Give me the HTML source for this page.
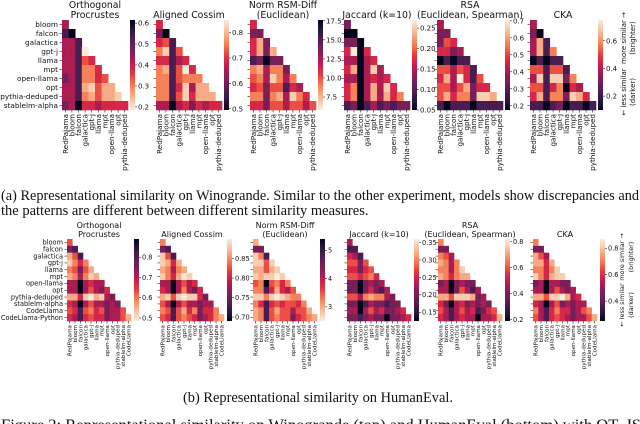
<!DOCTYPE html>
<html><head><meta charset="utf-8">
<style>
html,body{margin:0;padding:0;background:#fff;}
svg{display:block;font-family:"DejaVu Sans","Liberation Sans",sans-serif;}
.cap{font-family:"Liberation Serif",serif;font-size:14.5px;fill:#111;}
</style></head>
<body>
<svg id="fig" width="640" height="424" viewBox="0 0 640 424" xmlns="http://www.w3.org/2000/svg">
<text class="cap" x="1" y="200" textLength="638" lengthAdjust="spacingAndGlyphs">(a) Representational similarity on Winogrande. Similar to the other experiment, models show discrepancies and</text>
<text class="cap" x="1" y="215">the patterns are different between different similarity measures.</text>
<text class="cap" x="183" y="402" textLength="270" lengthAdjust="spacingAndGlyphs">(b) Representational similarity on HumanEval.</text>
<text class="cap" x="1" y="430" style="font-size:15.5px" textLength="640" lengthAdjust="spacingAndGlyphs">Figure 2: Representational similarity on Winogrande (top) and HumanEval (bottom) with OT, JS</text>
</svg>
<script>
// ---- data (brightness levels 0=dark .. 9=light) ----
const rowsTop = ["bloom","falcon","galactica","gpt-j","llama","mpt","open-llama","opt","pythia-deduped","stablelm-alpha"];
const colsTop = ["RedPajama","bloom","falcon","galactica","gpt-j","llama","mpt","open-llama","opt","pythia-deduped"];
const rowsBot = ["bloom","falcon","galactica","gpt-j","llama","mpt","open-llama","opt","pythia-deduped","stablelm-alpha","CodeLlama","CodeLlama-Python"];
const colsBot = ["RedPajama","bloom","falcon","galactica","gpt-j","llama","mpt","open-llama","opt","pythia-deduped","stablelm-alpha","CodeLlama"];

const lvOrthTop = ["3","10","331","3319","33154","331664","2316645","33178577","331675778","2304434444"];
const lvCosTop  = ["4","20","451","6815","44134","671594","6615666","66148377","661584777","3303424344"];
const lvRsmTop  = ["4","22","472","4727","12022","673662","5638636","45255143","662673864","4425535535"];
const lvJacTop  = ["2","00","220","4904","33034","470383","3303434","46037384","460373746","1201312122"];
const lvRsaTop  = ["3","22","254","4423","01011","553541","4739415","55357244","574662887","1011101111"];
const lvCkaTop  = ["3","20","371","3716","01011","551551","3818826","55146043","471662874","1101201101"];

const lvOrthBot = ["5","21","751","8646","65257","763687","3303433","33035324","774897832","4303533232","54156452335","431454423357"];
const lvCosBot  = ["6","21","851","8747","76367","864798","3303534","43036324","785898842","5303533233","65157462446","541565423467"];
const lvRsmBot  = ["7","22","861","8858","77578","878898","5605646","66147435","886898766","6414545546","76157553557","761565524567"];
const lvJacBot  = ["3","11","431","5525","44245","554564","2202323","22024213","553676632","2201322122","33035342234","221232202234"];
const lvRsaBot  = ["6","22","653","7636","66368","764677","2302322","33025313","775888723","4203423232","53135341245","431343303347"];
const lvCkaBot  = ["6","22","753","7747","66468","864788","2303322","33035323","775889734","4303523233","63146442356","531454323357"];

const titles = [["Orthogonal","Procrustes"],["Aligned Cossim"],["Norm RSM-Diff","(Euclidean)"],["Jaccard (k=10)"],["RSA","(Euclidean, Spearman)"],["CKA"]];
const cbTopRange = [[0.615,0.185],[0.85,0.495],[17.6,5.8],[0.27,0.05],[0.705,0.175],[0.75,0.1]];
const cbTopTicks = [[0.6,0.5,0.4,0.3,0.2],[0.8,0.7,0.6,0.5],[17.5,15.0,12.5,10.0,7.5],[0.25,0.20,0.15,0.10,0.05],[0.7,0.6,0.5,0.4,0.3,0.2],[0.6,0.4,0.2]];
const cbBotRange = [[0.89,0.485],[0.9,0.69],[5.4,2.5],[0.36,0.125],[0.82,0.19],[0.87,0.25]];
const cbBotTicks = [[0.8,0.7,0.6,0.5],[0.85,0.80,0.75,0.70],[5,4,3],[0.35,0.30,0.25,0.20,0.15],[0.8,0.6,0.4,0.2],[0.8,0.6,0.4]];
const darkTop = [true,false,true,false,false,false];
const tickDecimals = [1,1,1,2,1,1];
const tickDecimalsBot = [1,2,0,2,1,1];

// ---- drawing ----
const NS="http://www.w3.org/2000/svg";
const svg=document.getElementById('fig');
const stops=[[3,5,26],[40,23,62],[76,29,83],[113,31,87],[151,28,86],[203,27,79],[229,55,64],[243,111,74],[246,158,116],[248,200,170],[250,235,221]];
function rocket(t){t=Math.max(0,Math.min(1,t));const p=t*(stops.length-1);const i=Math.min(stops.length-2,Math.floor(p));const f=p-i;
 const c=stops[i].map((v,k)=>Math.round(v+(stops[i+1][k]-v)*f));return `rgb(${c[0]},${c[1]},${c[2]})`;}
function lvColor(d){return rocket(Math.pow(d/9,0.75));}
function el(tag,attrs,parent){const e=document.createElementNS(NS,tag);for(const k in attrs)e.setAttribute(k,attrs[k]);(parent||svg).appendChild(e);return e;}
let gid=0;
function panel(cfg){
 const g=el('g',{});
 
 
 const n=cfg.rows.length, cw=cfg.w/n, ch=cfg.h/n;
 cfg.levels.forEach((row,i)=>{for(let j=0;j<=i;j++){
  const r=el('rect',{x:cfg.x+j*cw,y:cfg.y+i*ch,width:cw+0.3,height:ch+0.3,fill:lvColor(+row[j])},g);
  
  
 }});
 cfg.rows.forEach((lab,i)=>{const yy=cfg.y+(i+0.5)*ch;
  el('line',{x1:cfg.x-2.5,x2:cfg.x,y1:yy,y2:yy,stroke:'#222','stroke-width':0.6},g);
  if(cfg.showRows){const t=el('text',{x:cfg.x-4,y:yy+cfg.fs*0.35,'font-size':cfg.fs,'text-anchor':'end',fill:'#111'},g);t.textContent=lab;
   
   }
 });
 cfg.cols.forEach((lab,j)=>{const xx=cfg.x+(j+0.5)*cw;const yb=cfg.y+cfg.h;
  el('line',{x1:xx,x2:xx,y1:yb,y2:yb+2.5,stroke:'#222','stroke-width':0.6},g);
  const t=el('text',{x:0,y:0,'font-size':cfg.xfs,'text-anchor':'end',fill:'#111',transform:`translate(${xx+cfg.xfs*0.35},${yb+4}) rotate(-90)`},g);t.textContent=lab;
  
  
 });
 cfg.title.forEach((line,k)=>{const t=el('text',{x:cfg.x+cfg.w/2,y:cfg.ty[cfg.title.length-1][k],'font-size':cfg.tfs,'text-anchor':'middle',fill:'#111'},g);t.textContent=line;
  
  });
 const id='gr'+(gid++);
 const defs=el('defs',{},g);const lg=el('linearGradient',{id:id,x1:0,y1:0,x2:0,y2:1},defs);
 for(let k=0;k<=10;k++){const t=cfg.darkTop?k/10:1-k/10;el('stop',{offset:k/10,'stop-color':rocket(t)},lg);}
 const cb=el('rect',{x:cfg.cbx,y:cfg.y,width:5,height:cfg.h,fill:`url(#${id})`},g);
 
 
 const [vt,vb]=cfg.range;
 cfg.ticks.forEach(v=>{const yy=cfg.y+(vt-v)/(vt-vb)*cfg.h;
  el('line',{x1:cfg.cbx+5,x2:cfg.cbx+7,y1:yy,y2:yy,stroke:'#222','stroke-width':0.6},g);
  const t=el('text',{x:cfg.cbx+8,y:yy+cfg.cfs*0.36,'font-size':cfg.cfs,fill:'#111'},g);t.textContent=v.toFixed(cfg.dec);
  
  });
}
const topLv=[lvOrthTop,lvCosTop,lvRsmTop,lvJacTop,lvRsaTop,lvCkaTop];
const botLv=[lvOrthBot,lvCosBot,lvRsmBot,lvJacBot,lvRsaBot,lvCkaBot];
const names=['orthogonal-procrustes','aligned-cossim','norm-rsm-diff','jaccard','rsa','cka'];
const topX=[62,156,250,344,437,530], botX=[67,160,253,347,438,533];
for(let p=0;p<6;p++){
 panel({name:'top-'+names[p]+'-heatmap',x:topX[p],y:20,w:66,h:90,rows:rowsTop,cols:colsTop,levels:topLv[p],showRows:p===0,fs:7.3,xfs:7.2,
  title:titles[p],ty:[[18],[8,18]],tfs:9.3,cbx:topX[p]+68,range:cbTopRange[p],ticks:cbTopTicks[p],darkTop:darkTop[p],cfs:7,dec:tickDecimals[p]});
 panel({name:'bottom-'+names[p]+'-heatmap',x:botX[p],y:239,w:64,h:82,rows:rowsBot,cols:colsBot,levels:botLv[p],showRows:p===0,fs:6.6,xfs:5.6,
  title:titles[p],ty:[[237],[228,237]],tfs:8,cbx:botX[p]+67,range:cbBotRange[p],ticks:cbBotTicks[p],darkTop:darkTop[p],cfs:6.6,dec:tickDecimalsBot[p]});
}
// side annotation: separate pieces (rotated, reading bottom-to-top)
function rot(x,y,fs,txt,name){
 const t=el('text',{x:0,y:0,'font-size':fs,'text-anchor':'middle',fill:'#111',transform:`translate(${x},${y}) rotate(-90)`});
 t.textContent=txt;
 
 
}
function side(x,yTop,yBot,fs,name){
 rot(x,yBot,fs,'← less similar',name+'-less');
 rot(x,yTop,fs,'more similar →',name+'-more');
 rot(x+9,yBot,fs,'(darker)',name+'-darker');
 rot(x+9,yTop,fs,'(brighter)',name+'-brighter');
}
side(626,38,92,7,'top-similarity-note');
side(624,257,305,6.4,'bottom-similarity-note');
</script>
</body></html>
